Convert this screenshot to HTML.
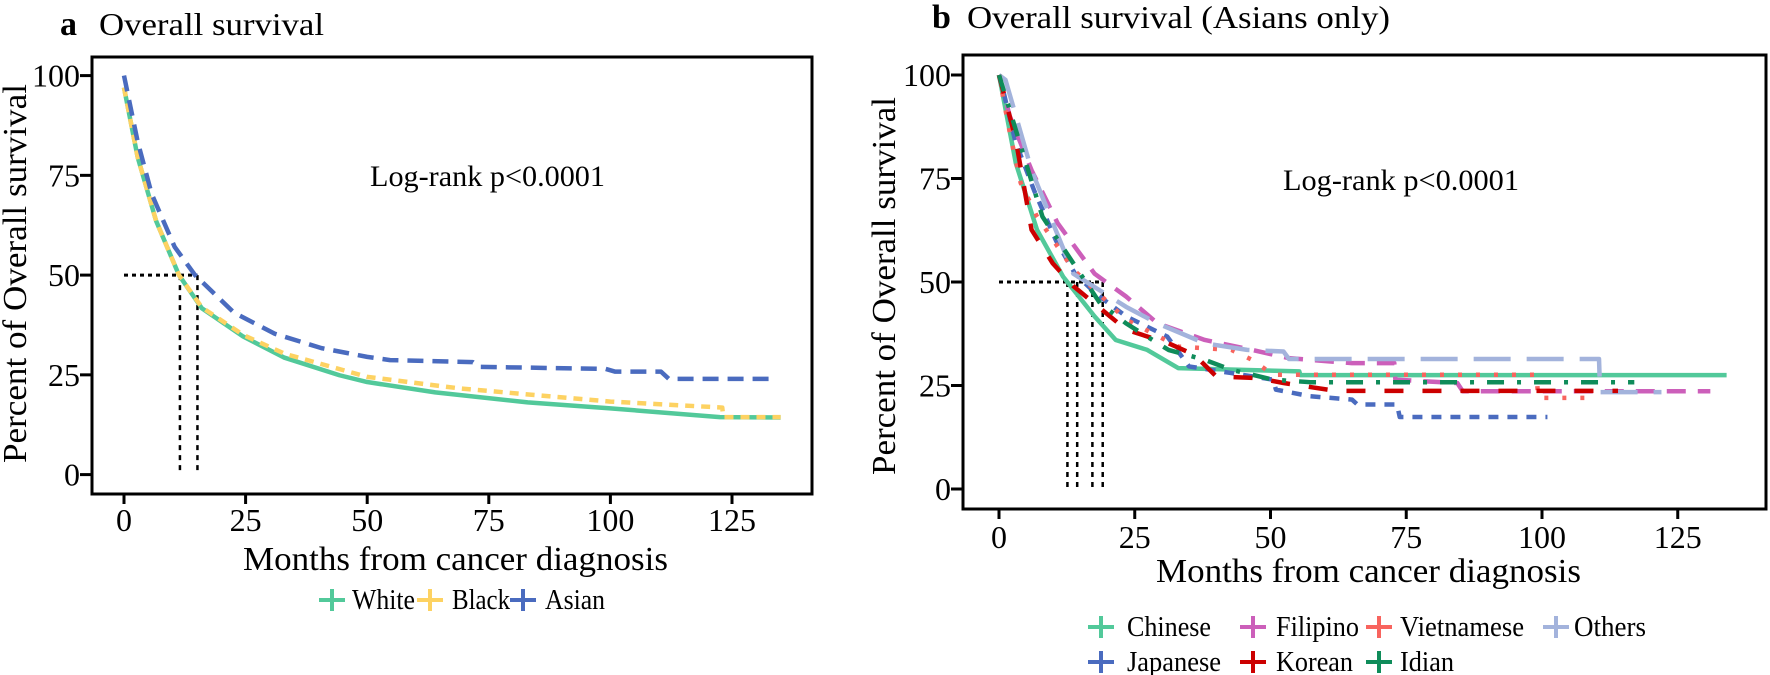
<!DOCTYPE html>
<html><head><meta charset="utf-8"><style>
html,body{margin:0;padding:0;background:#fff}
svg{display:block}
text{font-family:"Liberation Serif",serif;fill:#000}
</style></head><body>
<svg id="chart" width="1770" height="675" viewBox="0 0 1770 675" xmlns="http://www.w3.org/2000/svg">
<g id="pa"></g>
<g id="pb"></g>
</svg>
<script>
// ---------- Panel A data ----------
const aTicksX = [0, 25, 50, 75, 100, 125];
const aTicksY = [0, 25, 50, 75, 100];
const whiteT = [0, 2.8, 6.6, 11.3, 16, 24.5, 33, 44.3, 50, 64, 83, 100, 122.5, 135];
const whiteS = [97, 79.6, 63.6, 50, 41.7, 34.6, 29.3, 24.9, 23.2, 20.6, 18.1, 16.6, 14.4, 14.3];
const blackT = [0, 2.8, 6.6, 11.3, 16, 24.5, 33, 50, 69, 87.7, 100, 123, 123.2, 135];
const blackS = [97, 79.6, 63.6, 50, 41.9, 35, 30.3, 24.5, 21.6, 19.6, 18.3, 16.8, 14.4, 14.4];
const asianT = [0, 2.8, 5.7, 10.4, 14.6, 22.6, 31, 40.6, 50, 54.7, 71.7, 73, 99, 101, 110.4, 112, 133];
const asianS = [100, 83.5, 70.3, 57.1, 50, 40.6, 35.3, 31.7, 29.5, 28.7, 28.2, 27, 26.5, 25.8, 25.8, 24, 24];
const aMedians = [11.5, 15.1];

// ---------- Panel B data ----------
const bTicksX = [0, 25, 50, 75, 100, 125];
const bTicksY = [0, 25, 50, 75, 100];
const chineseT = [0, 3.1, 7, 11.8, 17.6, 21.5, 27.3, 33, 55.3, 55.5, 134];
const chineseS = [100, 78.7, 62.6, 51.3, 41.7, 36, 33.6, 29.2, 28.4, 27.5, 27.5];
const japaneseT = [0, 1, 3, 6.5, 10.5, 14, 18, 23.4, 31, 35, 42.8, 50.5, 51, 57.3, 65, 66, 73.3, 73.8, 101];
const japaneseS = [100, 95, 84, 72, 60, 52, 47, 41.7, 36.8, 29.6, 28, 26.4, 24, 22.4, 21.6, 20.4, 20.4, 17.4, 17.4];
const filipinoT = [0, 2, 6, 10.8, 17.6, 23.4, 29.2, 37.9, 46.6, 53.4, 65, 72.8, 73, 84.4, 85.4, 131];
const filipinoS = [100, 90, 77, 64.2, 52, 46.5, 40, 36, 33.6, 31.6, 30.4, 30.4, 26.4, 25.6, 23.6, 23.6];
const vietnameseT = [0, 2, 4, 7, 13.7, 23.4, 33, 42.8, 46.6, 50.5, 99, 99.3, 108];
const vietnameseS = [100, 86, 73.9, 65.8, 53, 40.9, 34.4, 33.6, 31.2, 27.6, 27.6, 22, 22];
const othersT = [0, 1.2, 6, 13.7, 23.4, 29.2, 37.9, 45.7, 52.4, 53.4, 110.5, 110.7, 122];
const othersS = [100, 98.8, 77, 52, 44, 40, 35.2, 33.6, 33.2, 31.4, 31.4, 23.4, 23.4];
const koreanT = [0, 3.1, 6, 9.9, 13.7, 23.4, 31.2, 36, 40, 47.6, 52.4, 62, 114];
const koreanS = [100, 84.3, 62.6, 54.5, 49, 38.5, 35.2, 32.4, 27.2, 26.8, 25.6, 23.7, 23.7];
const idianT = [0, 3.1, 8, 13.7, 18.6, 23.4, 31.2, 37.9, 42.8, 50.5, 57.3, 117];
const idianS = [100, 86.7, 65.8, 54.5, 44.9, 40, 33.6, 31.2, 28.8, 26.4, 25.8, 25.8];
const bMedians = [12.6, 14.4, 17.2, 19.1];

const NS = "http://www.w3.org/2000/svg";
function mk(parent, tag, attrs, txt) {
  const e = document.createElementNS(NS, tag);
  for (const k in attrs) e.setAttribute(k, attrs[k]);
  if (txt !== undefined) e.textContent = txt;
  parent.appendChild(e);
  return e;
}
function linePath(T, S, sx, sy) {
  let d = "M" + sx(T[0]) + "," + sy(S[0]);
  for (let i = 1; i < T.length; i++) d += " L" + sx(T[i]) + "," + sy(S[i]);
  return d;
}

function panel(g, cfg) {
  const sx = v => cfg.x0 + v * cfg.kx;
  const sy = v => cfg.y0 - v * cfg.ky;
  const box = mk(g, "rect", {x: cfg.bl, y: cfg.bt, width: cfg.br - cfg.bl, height: cfg.bb - cfg.bt, fill: "none", stroke: "#000", "stroke-width": 3});
  
  
  cfg.ticksX.forEach(t => {
    const tk = mk(g, "line", {x1: sx(t), x2: sx(t), y1: cfg.bb, y2: cfg.bb + 10, stroke: "#000", "stroke-width": 3});
    
    
    const lb = mk(g, "text", {x: sx(t), y: cfg.xlabY, "font-size": 32, "text-anchor": "middle"}, String(t));
    
    
  });
  cfg.ticksY.forEach(t => {
    const tk = mk(g, "line", {x1: cfg.bl - 12, x2: cfg.bl, y1: sy(t), y2: sy(t), stroke: "#000", "stroke-width": 3});
    
    
    const lb = mk(g, "text", {x: cfg.bl - 12, y: sy(t) + 11, "font-size": 32, "text-anchor": "end"}, String(t));
    
    
  });
  const mmax = Math.max(...cfg.medians);
  const hm = mk(g, "line", {x1: sx(0), x2: sx(mmax), y1: sy(50), y2: sy(50), stroke: "#000", "stroke-width": 3, "stroke-dasharray": "4,4"});
  
  
  cfg.medians.forEach(m => {
    const vm = mk(g, "line", {x1: sx(m), x2: sx(m), y1: sy(50), y2: sy(0), stroke: "#000", "stroke-width": 2.5, "stroke-dasharray": "5,5"});
    
    
  });
  cfg.series.forEach(s => {
    const pth = mk(g, "path", {d: linePath(s.T, s.S, sx, sy), fill: "none", stroke: s.c, "stroke-width": 4.5, "stroke-dasharray": s.dash, "stroke-linejoin": "round"});
    
    
  });
}

const pa = document.getElementById("pa");
panel(pa, {p: "panel-a", bl: 92, br: 812, bt: 57, bb: 494, x0: 124, kx: 4.864, y0: 474.6, ky: 3.99,
  xlabY: 531, ticksX: aTicksX, ticksY: aTicksY, medians: aMedians,
  series: [
    {name: "white-curve", T: whiteT, S: whiteS, c: "#52c99a", dash: "none"},
    {name: "black-curve", T: blackT, S: blackS, c: "#fdd262", dash: "9,7"},
    {name: "asian-curve", T: asianT, S: asianS, c: "#4a6bbf", dash: "16,9"}
  ]});
const pb = document.getElementById("pb");
panel(pb, {p: "panel-b", bl: 963, br: 1766, bt: 55, bb: 509, x0: 999, kx: 5.43, y0: 489, ky: 4.14,
  xlabY: 548, ticksX: bTicksX, ticksY: bTicksY, medians: bMedians,
  series: [
    {name: "chinese-curve", T: chineseT, S: chineseS, c: "#52c99a", dash: "none"},
    {name: "japanese-curve", T: japaneseT, S: japaneseS, c: "#4a6bbf", dash: "10,9"},
    {name: "filipino-curve", T: filipinoT, S: filipinoS, c: "#cc5fba", dash: "19,12"},
    {name: "vietnamese-curve", T: vietnameseT, S: vietnameseS, c: "#f8645e", dash: "4,14"},
    {name: "others-curve", T: othersT, S: othersS, c: "#a3b3dc", dash: "37,16"},
    {name: "korean-curve", T: koreanT, S: koreanS, c: "#cc0000", dash: "19,19"},
    {name: "idian-curve", T: idianT, S: idianS, c: "#0f8c5a", dash: "17,13,4,13"}
  ]});
</script>
<script>
const svg = document.getElementById("chart");
function T(x, y, size, str, name, extra) {
  const e = document.createElementNS("http://www.w3.org/2000/svg", "text");
  e.setAttribute("x", x); e.setAttribute("y", y); e.setAttribute("font-size", size);
  if (extra) for (const k in extra) e.setAttribute(k, extra[k]);
  e.textContent = str;
  
  
  svg.appendChild(e);
  return e;
}
T(60, 35, 34, "a", "panel-a-letter", {"font-weight": "bold"});
T(99, 35, 32, "Overall survival", "panel-a-title", {textLength: 225, lengthAdjust: "spacingAndGlyphs"});
T(932, 28, 34, "b", "panel-b-letter", {"font-weight": "bold"});
T(967, 28, 32, "Overall survival (Asians only)", "panel-b-title", {textLength: 423, lengthAdjust: "spacingAndGlyphs"});
T(370, 186, 30, "Log-rank p<0.0001", "panel-a-logrank", {textLength: 235, lengthAdjust: "spacingAndGlyphs"});
T(1283, 190, 30, "Log-rank p<0.0001", "panel-b-logrank", {textLength: 236, lengthAdjust: "spacingAndGlyphs"});
T(243, 570, 34, "Months from cancer diagnosis", "panel-a-x-axis-title", {textLength: 425, lengthAdjust: "spacingAndGlyphs"});
T(1156, 582, 34, "Months from cancer diagnosis", "panel-b-x-axis-title", {textLength: 425, lengthAdjust: "spacingAndGlyphs"});
T(0, 0, 34, "Percent of Overall survival", "panel-a-y-axis-title", {textLength: 379, lengthAdjust: "spacingAndGlyphs", transform: "translate(26,463) rotate(-90)"});
T(0, 0, 34, "Percent of Overall survival", "panel-b-y-axis-title", {textLength: 378, lengthAdjust: "spacingAndGlyphs", transform: "translate(895,475) rotate(-90)"});
function legend(mx, cy, color, label, name, tx, tw) {
  const g = document.createElementNS("http://www.w3.org/2000/svg", "g");
  
  
  const h = document.createElementNS("http://www.w3.org/2000/svg", "path");
  h.setAttribute("d", `M${mx-13},${cy} H${mx+13} M${mx},${cy-11} V${cy+11}`);
  h.setAttribute("stroke", color); h.setAttribute("stroke-width", 4); h.setAttribute("fill", "none");
  g.appendChild(h);
  const t = document.createElementNS("http://www.w3.org/2000/svg", "text");
  t.setAttribute("x", tx); t.setAttribute("y", cy + 9); t.setAttribute("font-size", 28);
  t.setAttribute("textLength", tw); t.setAttribute("lengthAdjust", "spacingAndGlyphs");
  t.textContent = label;
  g.appendChild(t);
  svg.appendChild(g);
}
legend(332, 600, "#52c99a", "White", "legend-white", 352, 63);
legend(430, 600, "#fdd262", "Black", "legend-black", 452, 58);
legend(523, 600, "#4a6bbf", "Asian", "legend-asian", 545, 60);
legend(1101, 627, "#52c99a", "Chinese", "legend-chinese", 1127, 84);
legend(1253, 627, "#cc5fba", "Filipino", "legend-filipino", 1276, 83);
legend(1379, 627, "#f8645e", "Vietnamese", "legend-vietnamese", 1400, 124);
legend(1556, 627, "#a3b3dc", "Others", "legend-others", 1574, 72);
legend(1101, 662, "#4a6bbf", "Japanese", "legend-japanese", 1127, 94);
legend(1253, 662, "#cc0000", "Korean", "legend-korean", 1276, 77);
legend(1379, 662, "#0f8c5a", "Idian", "legend-idian", 1400, 54);
</script>
</body></html>
